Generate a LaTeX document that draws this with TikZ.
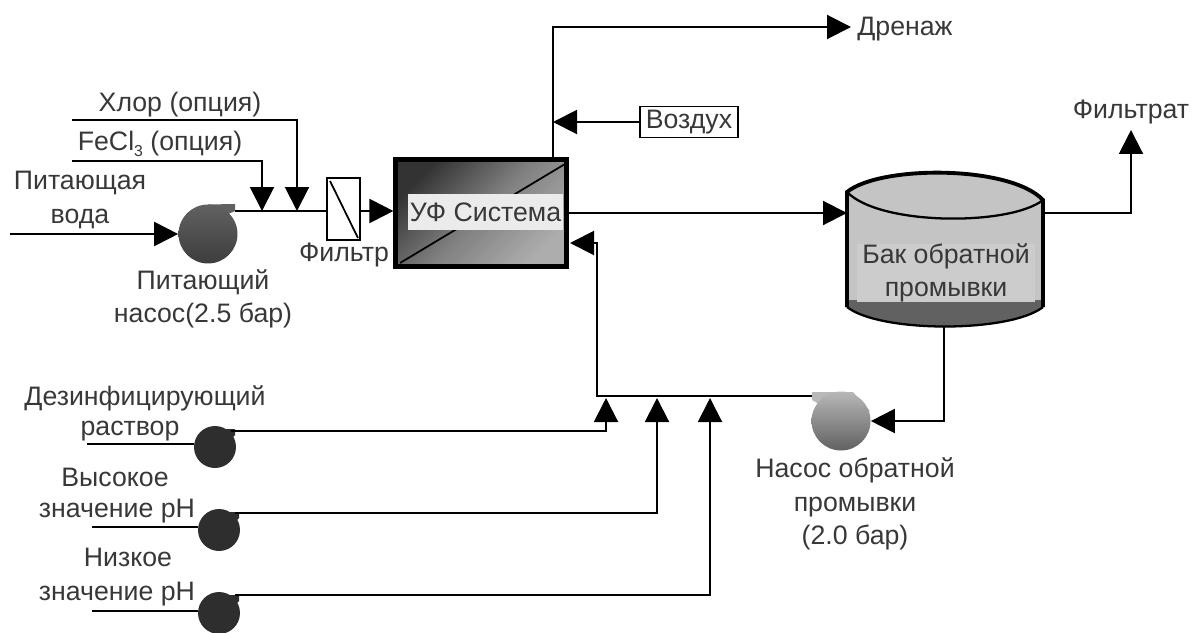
\documentclass[tikz,border=0pt]{standalone}
\usepackage{fontspec}
\setmainfont{Liberation Sans}
\usetikzlibrary{calc}
\usetikzlibrary{arrows.meta}
\definecolor{inkgray}{gray}{0.22}
\definecolor{tankgray}{gray}{0.77}
\definecolor{banddark}{gray}{0.38}
\tikzset{
    line/.style={line width=1.15pt,black},
    flow/.style={line,-{Triangle[length=0.48cm,width=0.48cm]}},
    txt/.style={inner sep=0pt,text=inkgray,align=center,font=\fontsize{15.2}{18.9}\selectfont},
    pump/.style={circle,inner sep=0pt,minimum size=1.18cm},
    smallpump/.style={circle,fill=black!82,inner sep=0pt,minimum size=0.84cm}
}
\begin{document}
\begin{tikzpicture}[x=0.02cm,y=-0.02cm]
            \useasboundingbox (0,0) rectangle (1195,632);
            % feed side
            \coordinate (feedin) at (10,234);
            \coordinate (feedout) at (235,211);
            \coordinate (chlorin) at (72,120);
            \coordinate (chlorend) at (297,211);
            \coordinate (ferricin) at (72,161);
            \coordinate (ferricend) at (262,211);
            \fill[black!62] (208,204.5)--(235,204)--(235,211)--(228,214)--(208,234)--cycle;
            \node[pump,top color=black!62,bottom color=black!76] (feedpump) at (208,234) {};
            \node[draw,line width=1pt,fill=white,minimum width=0.66cm,minimum height=1.24cm,inner sep=0pt] (filter) at (343.5,209) {};
            \draw[line width=1pt] (330,181)--(358,238);
            \node[draw,line width=2.4pt,minimum width=3.42cm,minimum height=2.14cm,inner sep=0pt,top color=black!80,bottom color=black!32,middle color=black!50,shading angle=45] (uf) at (481,213) {};
            \draw[line width=1pt] (400,263)--(565,164);
            \node[txt,fill=black!8,minimum width=3.1cm,minimum height=0.72cm] (uflabel) at (485.5,212) {УФ Система};
            \draw[flow] (feedin)--(feedpump.west);
            \draw[line] (feedout)--(feedout-|filter.west);
            \draw[flow] (ferricin)-|(ferricend);
            \draw[flow] (chlorin)-|(chlorend);
            \draw[flow] (filter.east|-feedout)--(uf.west|-feedout);
            % tank
            \coordinate (tankin) at (847,213);
            \coordinate (tankout) at (1043,213);
            \coordinate (tankdown) at (944,327);
            \fill[tankgray] (847,192) .. controls (880,165) and (1010,165) .. (1043,200)--(1043,307) .. controls (1010,333) and (880,333) .. (847,307)--cycle;
            \fill[banddark] (847,300)--(1043,300)--(1043,307) .. controls (1010,333) and (880,333) .. (847,307)--cycle;
            \node[txt,fill=black!20,minimum width=3.56cm,minimum height=1.08cm] (tanklabel) at (946,273) {Бак обратной\\промывки};
            \draw[line width=2.2pt] (847,307)--(847,192) .. controls (880,165) and (1010,165) .. (1043,200)--(1043,307);
            \draw[line width=1.3pt] (1043,307) .. controls (1010,333) and (880,333) .. (847,307);
            \draw[line width=1.3pt] (847,192) .. controls (880,226) and (1010,226) .. (1043,200);
            % backwash
            \coordinate (backjoin) at (597,396);
            \coordinate (backend) at (570,243);
            \coordinate (drainend) at (851,27);
            \coordinate (drainup) at (553,27);
            \coordinate (drainjoin) at (553,122);
            \coordinate (permeate) at (1131,130);
            \coordinate (backout) at (812,396);
            \fill[black!28] (812,392)--(853,392)--(870,411)--(841,421)--(817,403)--(812,400)--cycle;
            \node[pump,top color=black!28,bottom color=black!62] (backpump) at (841,421) {};
            \draw[flow] (uf.east)--(tankin);
            \draw[flow] (tankout)-|(permeate);
            \draw[flow] (tankdown)|-(backpump.east);
            \draw[flow] (backout)-|(backjoin)--(backjoin|-backend)--(backend);
            \draw[flow] (uf.north-|drainup)--(drainup)--(drainend);
            \node[draw,line width=1pt,fill=white,txt,minimum width=1.96cm,minimum height=0.62cm] (air) at (689,122) {Воздух};
            \draw[flow] (air.west)--(drainjoin);
            % dosing pumps
            \foreach \n/\px/\py/\iny/\inx/\upx/\outy in {disinf/215/447/444/87/606/431,high/219/530/527/92/657/513,low/219/613/611/92/710/595}
            {
                \fill[black!82] (\px-6,\py-18)--(\px+20,\py-18)--(\px+20,\py-12)--(\px+8,\py)--cycle;
                \node[smallpump] (\n) at (\px,\py) {};
                \coordinate (\n in) at (\inx,\iny);
                \coordinate (\n out) at (\px+16,\outy);
                \coordinate (\n up) at (\upx,398);
                \draw[line] (\n in)--(\n.west|-\n in);
                \draw[flow] (\n out)-|(\n up);
            }
            % labels
            \node[txt] (chlorlabel) at (180,105) {Хлор (опция)};
            \node[txt] (ferriclabel) at (160,144) {FeCl\raisebox{-3pt}{\fontsize{9}{9}\selectfont 3} (опция)};
            \node[txt] (feedlabel) at (80,200) {Питающая\\вода};
            \node[txt] (feedpumplabel) at (203,299) {Питающий\\насос(2.5 бар)};
            \node[txt] (filterlabel) at (344,255) {Фильтр};
            \node[txt,anchor=west] (drainlabel) at (857,29) {Дренаж};
            \node[txt] (permeatelabel) at (1131,112) {Фильтрат};
            \node[txt] (backpumplabel) at (855,504) {Насос обратной\\промывки\\(2.0 бар)};
            \node[txt] (disinflabel) at (145,398) {Дезинфицирующий};
            \node[txt] (disinflabelb) at (130,431) {раствор};
            \node[txt] (highlabel) at (115,477) {Высокое};
            \node[txt] (highlabelb) at (117,511) {значение pH};
            \node[txt] (lowlabel) at (128,557) {Низкое};
            \node[txt] (lowlabelb) at (117,594) {значение pH};
        \end{tikzpicture}
\end{document}
